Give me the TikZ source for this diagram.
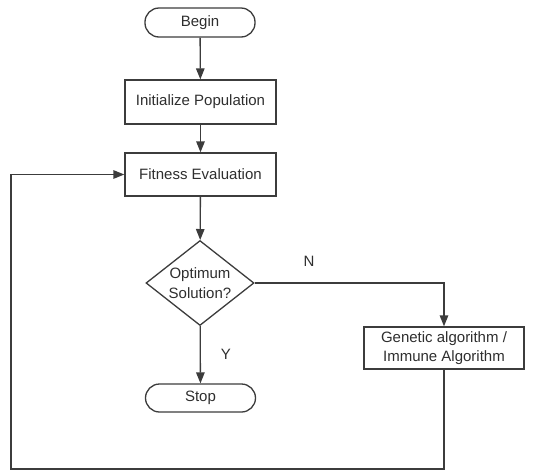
\documentclass[tikz,border=0pt]{standalone}
\usepackage{fontspec}
\setmainfont{Liberation Sans}
\usetikzlibrary{arrows.meta, shapes.geometric}
\definecolor{lineGray}{HTML}{3C3C3C}
\definecolor{textGray}{HTML}{2E2E2E}

\begin{document}
\begin{tikzpicture}[
x=1pt, y=1pt,
every node/.style={font=\fontsize{15}{19.5}\selectfont, text=textGray},
term/.style={
draw=lineGray,
line width=1.3pt,
rectangle,
rounded corners=14pt,
minimum width=110pt,
minimum height=29pt,
inner sep=0pt
},
box/.style={
draw=lineGray,
line width=1.3pt,
rectangle,
minimum width=151pt,
minimum height=44pt,
align=center,
inner sep=0pt
},
decision/.style={
draw=lineGray,
line width=1.3pt,
diamond,
aspect=1.27,
minimum width=108pt,
minimum height=85pt,
align=center,
inner sep=0pt
},
arrow/.style={-{Triangle[length=11pt, width=8.5pt]}, line width=1.3pt, lineGray}
]

\useasboundingbox (0,0) rectangle (552,-472);

\node[term] (begin) at (200,-22.5) {Begin};

\node[box] (init) at (200.5,-102) {Initialize Population};

\node[box, minimum height=43pt] (fit) at (200.5,-174.5) {Fitness Evaluation};

\node[decision] (opt) at (200,-283) {Optimum\\Solution?};

\node[box, minimum width=160pt, minimum height=42pt] (ga) at (444,-348)
{Genetic algorithm /\\Immune Algorithm};

\node[term, minimum height=28pt] (stop) at (200.5,-398) {Stop};

\node (nlabel) at (309,-261) {N};
\node (ylabel) at (226,-354) {Y};

\coordinate (loopR) at (ga.south |- 0,-469);
\coordinate (loopL) at (11,-469);


\draw[arrow] (begin) -- (init);
\draw[arrow] (init) -- (fit);
\draw[arrow] (fit) -- (opt);
\draw[arrow] (opt) -- (stop);
\draw[arrow] (opt.east) -| (ga.north);
\draw[arrow] (ga.south) -- (loopR) -- (loopL) |- (fit.west);

\end{tikzpicture}
\end{document}
